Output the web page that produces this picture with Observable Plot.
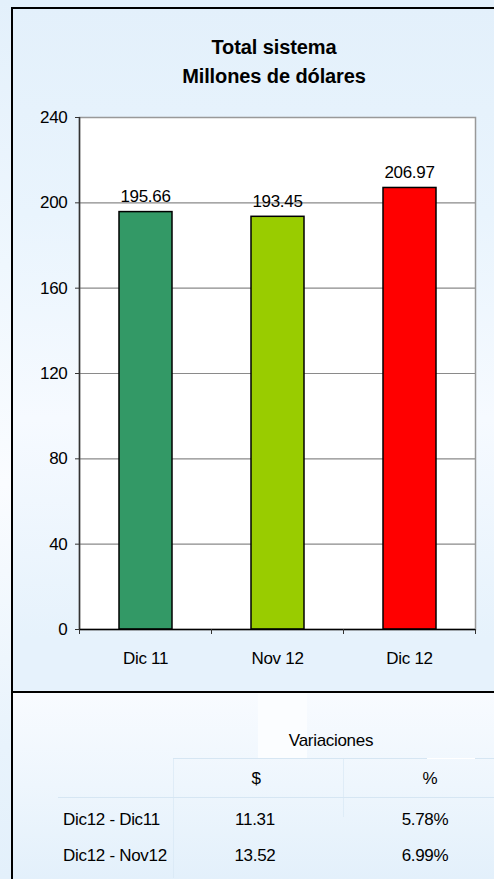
<!DOCTYPE html>
<html>
<head>
<meta charset="utf-8">
<script src="https://cdn.jsdelivr.net/npm/d3@7"></script>
<script src="https://cdn.jsdelivr.net/npm/@observablehq/plot@0.6"></script>
<style>
  html, body { margin: 0; padding: 0; }
  body { width: 494px; height: 879px; overflow: hidden; font-family: "Liberation Sans", Arial, sans-serif; }
  #page { position: relative; width: 494px; height: 879px;
    background: linear-gradient(to bottom, #e3f0fb 0%, #eff7fe 30%, #fafcff 55%, #e8f3fc 85%, #e3f0fb 100%); }
  #chartbg { position: absolute; left: 12px; top: 8px; width: 482px; height: 684px;
    background: linear-gradient(to bottom, #e3f0fb 0%, #e9f4fd 30%, #f6faff 60%, #e6f2fc 92%); }
  #tablebg { position: absolute; left: 12px; top: 692px; width: 482px; height: 187px;
    background: linear-gradient(to bottom, #f8fbff 0%, #eef6fd 50%, #e3f0fb 100%); }
  .line { position: absolute; background: #000; }
  #title { position: absolute; left: 12px; width: 524px; top: 32.5px; text-align: center;
    font-weight: bold; font-size: 20px; line-height: 29px; letter-spacing: -0.1px; color: #000; }
  #chart { position: absolute; left: 13px; top: 9px; }
  #table { position: absolute; left: 0; top: 0; }
</style>
</head>
<body>
<div id="page">
  <div id="chartbg"></div>
  <div id="tablebg"></div>
  <div id="chart"></div>
  <div id="title"></div>
  <svg id="table" width="494" height="879"></svg>
  <div class="line" style="left:11px;top:7px;width:2px;height:872px;"></div>
  <div class="line" style="left:11px;top:7px;width:483px;height:2px;"></div>
  <div class="line" style="left:12px;top:691px;width:482px;height:2px;"></div>
</div>
<script>
// ---- data ----
const titleLines = ["Total sistema", "Millones de dólares"];
const categories = ["Dic 11", "Nov 12", "Dic 12"];
const values = [195.66, 193.45, 206.97];
const barColors = ["#339966", "#99cc00", "#ff0000"];
const yTicks = [0, 40, 80, 120, 160, 200, 240];

const tableTitle = "Variaciones";
const tableHeaders = ["$", "%"];
const varLabels = ["Dic12 - Dic11", "Dic12 - Nov12"];
const varDollars = ["11.31", "13.52"];
const varPercents = ["5.78%", "6.99%"];

// ---- title ----
document.getElementById("title").innerHTML = titleLines.join("<br>");

// ---- chart ----
const data = categories.map((c, i) => ({i, category: c, value: values[i], color: barColors[i]}));
const boundaries = categories.map((_, i) => i).concat([categories.length]);
const centers = categories.map((_, i) => i + 0.5);

const chart = Plot.plot({
  width: 481,
  height: 683,
  marginLeft: 66,
  marginRight: 19,
  marginTop: 108,
  marginBottom: 63,
  style: {fontFamily: "'Liberation Sans', Arial, sans-serif", fontSize: "17px", background: "transparent", color: "#000", letterSpacing: "-0.3px"},
  x: {domain: [0, categories.length], label: null},
  y: {domain: [0, 240], label: null},
  marks: [
    Plot.frame({fill: "white", stroke: "#999", strokeWidth: 1.5}),
    Plot.gridY(yTicks.slice(1, -1), {stroke: "#8a8a8a", strokeOpacity: 1, strokeWidth: 1.2}),
    Plot.rectY(data, {x1: "i", x2: d => d.i + 1, y: "value", fill: "color", stroke: "#000", strokeWidth: 1.5, insetLeft: 40, insetRight: 39}),
    Plot.text(data, {x: d => d.i + 0.5, y: "value", text: d => d.value.toFixed(2), lineAnchor: "bottom", dy: -10, fontSize: 17}),
    Plot.ruleX([0], {stroke: "#333", strokeWidth: 1.5}),
    Plot.ruleY([0], {stroke: "#000", strokeWidth: 1.5}),
    Plot.axisY({ticks: yTicks, tickSize: 4, tickPadding: 8, fontSize: 17, stroke: "#333"}),
    Plot.axisX({ticks: boundaries, tickSize: 5, tickFormat: () => "", stroke: "#333"}),
    Plot.axisX({ticks: centers, tickSize: 0, tickPadding: 22, fontSize: 17, tickFormat: v => categories[Math.floor(v)]})
  ]
});
document.getElementById("chart").appendChild(chart);

// ---- table ----
const svg = d3.select("#table");
const faint = "#d6e6f3";
svg.append("rect").attr("x", 258).attr("y", 693).attr("width", 49).attr("height", 65).attr("fill", "#fbfdff");
svg.append("line").attr("x1", 173).attr("x2", 494).attr("y1", 758.5).attr("y2", 758.5).attr("stroke", faint);
svg.append("line").attr("x1", 427).attr("x2", 475).attr("y1", 758.5).attr("y2", 758.5).attr("stroke", "#ffffff");
svg.append("line").attr("x1", 58).attr("x2", 494).attr("y1", 797.5).attr("y2", 797.5).attr("stroke", faint);
svg.append("line").attr("x1", 173.5).attr("x2", 173.5).attr("y1", 758).attr("y2", 878).attr("stroke", faint).attr("stroke-opacity", 0.6);
svg.append("line").attr("x1", 343.5).attr("x2", 343.5).attr("y1", 758).attr("y2", 817).attr("stroke", faint).attr("stroke-opacity", 0.6);

const tstyle = t => t.attr("font-family", "'Liberation Sans', Arial, sans-serif").attr("font-size", 17).attr("letter-spacing", "-0.3").attr("fill", "#000");
tstyle(svg.append("text").attr("x", 331).attr("y", 746).attr("text-anchor", "middle").text(tableTitle));
const headerX = [256, 430];
tableHeaders.forEach((h, j) => tstyle(svg.append("text").attr("x", headerX[j]).attr("y", 784).attr("text-anchor", "middle").text(h)));
const rowY = [825, 861];
varLabels.forEach((lab, r) => {
  tstyle(svg.append("text").attr("x", 63).attr("y", rowY[r]).attr("text-anchor", "start").text(lab));
  tstyle(svg.append("text").attr("x", 255).attr("y", rowY[r]).attr("text-anchor", "middle").text(varDollars[r]));
  tstyle(svg.append("text").attr("x", 425).attr("y", rowY[r]).attr("text-anchor", "middle").text(varPercents[r]));
});
</script>
</body>
</html>
